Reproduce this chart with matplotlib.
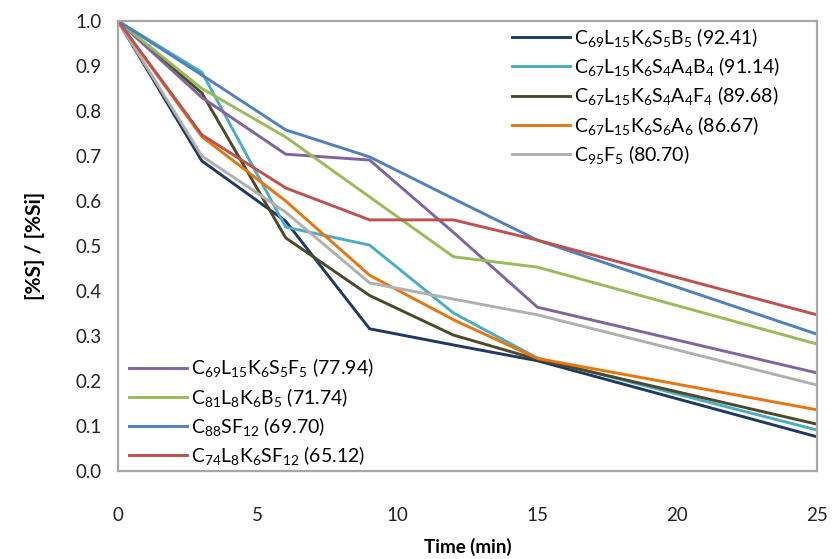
import matplotlib
matplotlib.use("Agg")
import matplotlib.pyplot as plt

plt.rcParams['font.family'] = ['Lato', 'DejaVu Sans']
plt.rcParams['mathtext.default'] = 'regular'

time = [0, 3, 6, 9, 12, 15, 25]

labels = [
    r'$C_{69}L_{15}K_{6}S_{5}B_{5}$ (92.41)',
    r'$C_{67}L_{15}K_{6}S_{4}A_{4}B_{4}$ (91.14)',
    r'$C_{67}L_{15}K_{6}S_{4}A_{4}F_{4}$ (89.68)',
    r'$C_{67}L_{15}K_{6}S_{6}A_{6}$ (86.67)',
    r'$C_{95}F_{5}$ (80.70)',
    r'$C_{69}L_{15}K_{6}S_{5}F_{5}$ (77.94)',
    r'$C_{81}L_{8}K_{6}B_{5}$ (71.74)',
    r'$C_{88}SF_{12}$ (69.70)',
    r'$C_{74}L_{8}K_{6}SF_{12}$ (65.12)',
]

s_c69b5 = [1.0, 0.689, 0.555, 0.316, 0.280, 0.245, 0.076]
s_c67b4 = [1.0, 0.886, 0.542, 0.502, 0.351, 0.251, 0.091]
s_c67f4 = [1.0, 0.840, 0.518, 0.390, 0.302, 0.248, 0.104]
s_c67a6 = [1.0, 0.743, 0.600, 0.435, 0.336, 0.250, 0.136]
s_c95f5 = [1.0, 0.700, 0.575, 0.418, 0.382, 0.347, 0.191]
s_c69f5 = [1.0, 0.830, 0.704, 0.691, 0.530, 0.364, 0.218]
s_c81b5 = [1.0, 0.850, 0.742, 0.609, 0.476, 0.453, 0.282]
s_c88 = [1.0, 0.880, 0.758, 0.698, 0.605, 0.513, 0.304]
s_c74 = [1.0, 0.747, 0.629, 0.558, 0.558, 0.513, 0.347]

series = [s_c69b5, s_c67b4, s_c67f4, s_c67a6, s_c95f5, s_c69f5, s_c81b5, s_c88, s_c74]
colors = ['#1F3864', '#4BACC6', '#4A4A2A', '#E8760F', '#B0B0B0',
          '#8064A2', '#9BBB59', '#4F81BD', '#C0504D']

fig = plt.figure(figsize=(8.32, 5.59), dpi=100)
ax = fig.add_axes([118/832, 1-471/559, (817-118)/832, (471-21)/559])

lines = []
for ys, c, lab in zip(series, colors, labels):
    ln, = ax.plot(time, ys, color=c, lw=2.1, label=lab)
    lines.append(ln)

ax.set_xlim(0, 25)
ax.set_ylim(0, 1.0)
ax.set_xticks([0, 5, 10, 15, 20, 25])
ax.set_yticks([i/10 for i in range(11)])
ax.set_yticklabels([f'{i/10:.1f}' for i in range(11)])
ax.tick_params(length=0, labelsize=13.5, colors='#222222', pad=12)
ax.tick_params(axis='x', pad=26)
for sp in ax.spines.values():
    sp.set_color('#A6A6A6')
    sp.set_linewidth(1.6)

ax.set_xlabel('Time (min)', fontsize=13.5, fontweight='bold', labelpad=10)
ax.set_ylabel('[%S] / [%Si]', fontsize=15, fontweight='bold', labelpad=22)

kw = dict(frameon=False, fontsize=14, handlelength=3.0, handletextpad=0.2,
          labelspacing=0.32, borderpad=0, borderaxespad=0)
leg1 = fig.legend(lines[:5], labels[:5], loc='upper left',
                  bbox_to_anchor=(512/832, 1-26/559), **kw)
leg2 = fig.legend(lines[5:], labels[5:], loc='lower left',
                  bbox_to_anchor=(129/832, 1-467/559), **kw)

fig.savefig('out.png', dpi=100)
